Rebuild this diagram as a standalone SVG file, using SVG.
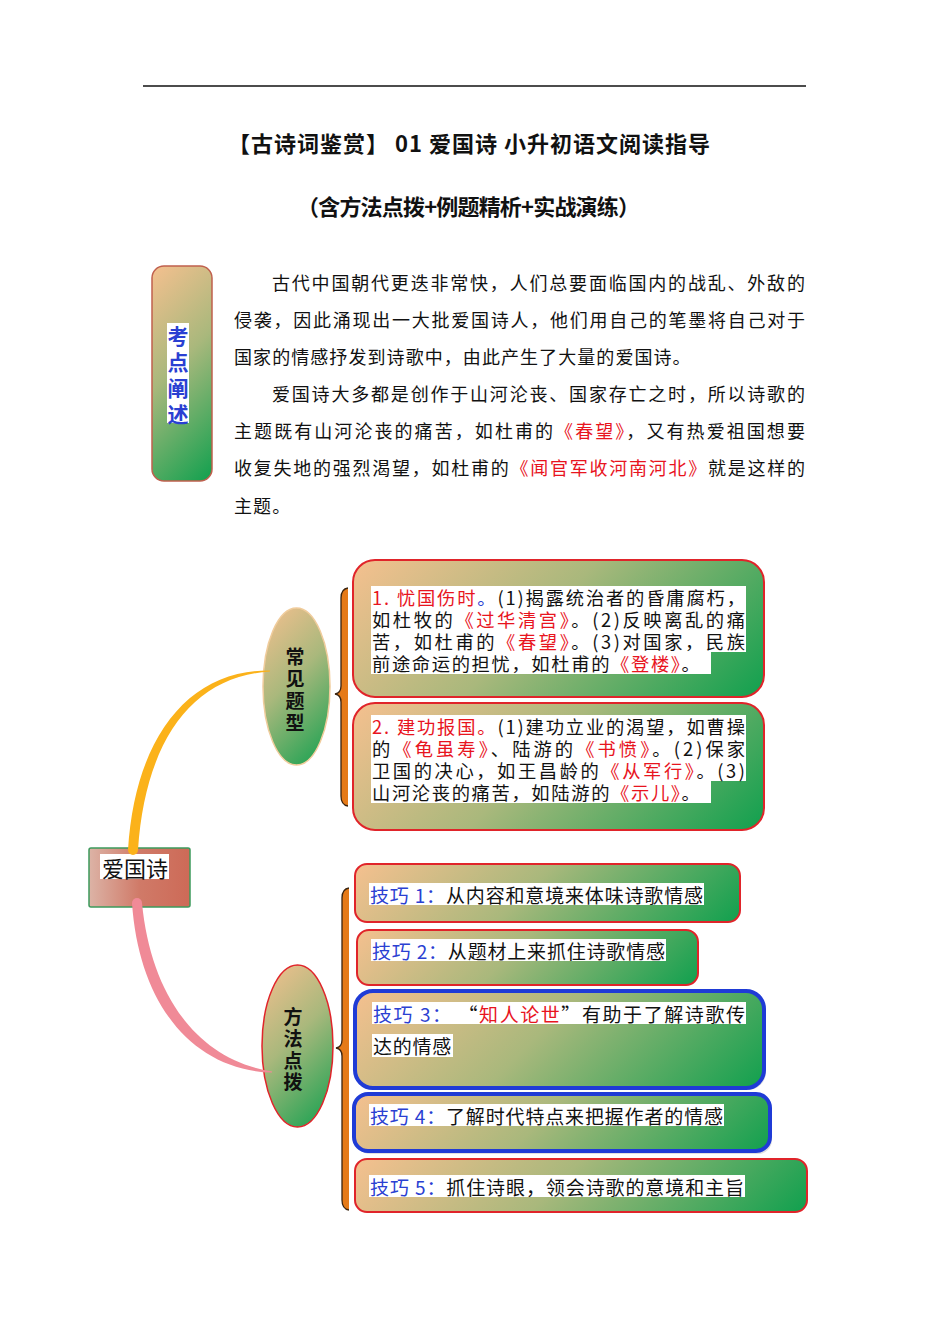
<svg xmlns="http://www.w3.org/2000/svg" width="950" height="1344" viewBox="0 0 950 1344">
<style>
text{font-family:"Noto Sans CJK SC","Liberation Sans",sans-serif;fill:#111;}
.t{font-size:22px;font-weight:700;dominant-baseline:central;}
.p{font-size:18px;dominant-baseline:central;letter-spacing:1.07px;}
.b{font-size:19px;dominant-baseline:central;}
.bs{font-size:18.3px;dominant-baseline:central;}
.v{font-size:19px;font-weight:700;writing-mode:vertical-rl;}
.r{fill:#e8141e;}
.bl{fill:#2a40d2;}
.hl{fill:#ffffff;}
.rb{stroke:#e0242a;stroke-width:2;}
.ub{stroke:#1f3bd6;stroke-width:4;}
.brace{fill:#e57a18;stroke:none;}
.braceedge{fill:none;stroke:#3a2410;stroke-width:1.3;}
</style>
<defs>
<linearGradient id="g" gradientUnits="userSpaceOnUse" x1="0" y1="0" x2="1" y2="1">
<stop offset="0" stop-color="#f5c08f"/>
<stop offset="0.45" stop-color="#a9b87c"/>
<stop offset="1" stop-color="#10a04e"/>
</linearGradient>
<linearGradient id="gK" href="#g" gradientUnits="userSpaceOnUse" x1="152" y1="266" x2="289.5" y2="403.5"/>
<linearGradient id="gB1" href="#g" gradientUnits="userSpaceOnUse" x1="353" y1="560" x2="627" y2="834"/>
<linearGradient id="gB2" href="#g" gradientUnits="userSpaceOnUse" x1="353" y1="703" x2="622" y2="972"/>
<linearGradient id="gE1" href="#g" gradientUnits="userSpaceOnUse" x1="263" y1="608" x2="375" y2="720"/>
<linearGradient id="gE2" href="#g" gradientUnits="userSpaceOnUse" x1="262" y1="965" x2="378.5" y2="1081.5"/>
<linearGradient id="gT1" href="#g" gradientUnits="userSpaceOnUse" x1="355" y1="864" x2="576.5" y2="1085.5"/>
<linearGradient id="gT2" href="#g" gradientUnits="userSpaceOnUse" x1="357" y1="930" x2="555" y2="1128"/>
<linearGradient id="gT3" href="#g" gradientUnits="userSpaceOnUse" x1="355" y1="991" x2="608" y2="1244"/>
<linearGradient id="gT4" href="#g" gradientUnits="userSpaceOnUse" x1="354" y1="1094" x2="591" y2="1331"/>
<linearGradient id="gT5" href="#g" gradientUnits="userSpaceOnUse" x1="355" y1="1159" x2="607.5" y2="1411.5"/>
<linearGradient id="gC" x1="0" y1="0" x2="1" y2="0">
<stop offset="0" stop-color="#dcb3a6"/>
<stop offset="0.5" stop-color="#d07a68"/>
<stop offset="1" stop-color="#cd6a57"/>
</linearGradient>
</defs>
<rect width="950" height="1344" fill="#ffffff"/>

<g id="header">
<line x1="143" y1="86" x2="806" y2="86" stroke="#111" stroke-width="1.3"/>
<text class="t" x="228" y="142" textLength="482" lengthAdjust="spacing">【古诗词鉴赏】 01 爱国诗 小升初语文阅读指导</text>
<text class="t" x="297" y="205" textLength="343" lengthAdjust="spacing">（含方法点拨+例题精析+实战演练）</text>
</g>

<g id="kaodian">
<rect x="152" y="266" width="60" height="215" rx="12" fill="url(#gK)" stroke="#c0604e" stroke-width="1.5"/>
<rect class="hl" x="167" y="323" width="22" height="100"/>
<text class="v bl" style="font-size:21px;letter-spacing:5px" x="178" y="325.5">考点阐述</text>
</g>

<g id="intro">
<text class="p" x="272" y="282" textLength="534" lengthAdjust="spacing">古代中国朝代更迭非常快，人们总要面临国内的战乱、外敌的</text>
<text class="p" x="234" y="319" textLength="572" lengthAdjust="spacing">侵袭，因此涌现出一大批爱国诗人，他们用自己的笔墨将自己对于</text>
<text class="p" x="234" y="356">国家的情感抒发到诗歌中，由此产生了大量的爱国诗。</text>
<text class="p" x="272" y="393" textLength="534" lengthAdjust="spacing">爱国诗大多都是创作于山河沦丧、国家存亡之时，所以诗歌的</text>
<text class="p" x="234" y="430" textLength="572" lengthAdjust="spacing">主题既有山河沦丧的痛苦，如杜甫的<tspan class="r">《春望》</tspan>，又有热爱祖国想要</text>
<text class="p" x="234" y="467" textLength="572" lengthAdjust="spacing">收复失地的强烈渴望，如杜甫的<tspan class="r">《闻官军收河南河北》</tspan>就是这样的</text>
<text class="p" x="234" y="505">主题。</text>
</g>

<g id="node-aiguoshi">
<rect x="89" y="848" width="101" height="59" rx="2" fill="url(#gC)" stroke="#3c9a5c" stroke-width="1.5"/>
<rect class="hl" x="100" y="854" width="69" height="25"/>
<text style="font-size:22px;dominant-baseline:central;text-anchor:middle" x="135" y="867">爱国诗</text>
</g>

<g id="node-changjian">
<ellipse cx="296.5" cy="686.5" rx="33.5" ry="78.5" fill="url(#gE1)" stroke="#f0cc9c" stroke-width="1.5"/>
<text class="v" style="letter-spacing:3px" x="295" y="647.5">常见题型</text>
</g>

<g id="node-fangfa">
<ellipse cx="297.5" cy="1046" rx="35.5" ry="81" fill="url(#gE2)" stroke="#e0242a" stroke-width="1.5"/>
<text class="v" style="letter-spacing:2.7px" x="293" y="1007.5">方法点拨</text>
</g>

<g id="braces">
<path class="brace" d="M348,588 Q341,589 341,598 L341,686 Q341,693 335,694 Q341,695 341,702 L341,796 Q341,805 348,806 Z"/>
<path class="braceedge" d="M348,588 Q341,589 341,598 L341,686 Q341,693 335,694 Q341,695 341,702 L341,796 Q341,805 348,806"/>
<path class="brace" d="M349,888 Q342,889 342,898 L342,1040 Q342,1047 336,1048 Q342,1049 342,1056 L342,1200 Q342,1209 349,1210 Z"/>
<path class="braceedge" d="M349,888 Q342,889 342,898 L342,1040 Q342,1047 336,1048 Q342,1049 342,1056 L342,1200 Q342,1209 349,1210"/>
</g>

<g id="node-type1">
<rect class="rb" x="353" y="560" width="411" height="137" rx="22" fill="url(#gB1)"/>
<rect class="hl" x="371" y="586" width="375" height="66"/>
<rect class="hl" x="371" y="652" width="340" height="22"/>
<text class="bs"><tspan x="372" y="597" textLength="373" lengthAdjust="spacing"><tspan class="r">1. 忧国伤时</tspan><tspan class="bl">。</tspan>(1)揭露统治者的昏庸腐朽，</tspan><tspan x="372" y="619" textLength="373" lengthAdjust="spacing">如杜牧的<tspan class="r">《过华清宫》</tspan>。(2)反映离乱的痛</tspan><tspan x="372" y="641" textLength="373" lengthAdjust="spacing">苦，如杜甫的<tspan class="r">《春望》</tspan>。(3)对国家，民族</tspan><tspan x="372" y="663" style="letter-spacing:1.64px">前途命运的担忧，如杜甫的<tspan class="r">《登楼》</tspan>。</tspan></text>
</g>

<g id="node-type2">
<rect class="rb" x="353" y="703" width="411" height="127" rx="22" fill="url(#gB2)"/>
<rect class="hl" x="371" y="715" width="375" height="66"/>
<rect class="hl" x="371" y="781" width="340" height="22"/>
<text class="bs"><tspan x="372" y="726" textLength="373" lengthAdjust="spacing"><tspan class="r">2. 建功报国。</tspan>(1)建功立业的渴望，如曹操</tspan><tspan x="372" y="748" textLength="373" lengthAdjust="spacing">的<tspan class="r">《龟虽寿》</tspan>、陆游的<tspan class="r">《书愤》</tspan>。(2)保家</tspan><tspan x="372" y="770" textLength="373" lengthAdjust="spacing">卫国的决心，如王昌龄的<tspan class="r">《从军行》</tspan>。(3)</tspan><tspan x="372" y="792" style="letter-spacing:1.64px">山河沦丧的痛苦，如陆游的<tspan class="r">《示儿》</tspan>。</tspan></text>
</g>

<g id="node-tip1">
<rect class="rb" x="355" y="864" width="385" height="58" rx="12" fill="url(#gT1)"/>
<rect class="hl" x="369" y="883" width="335" height="22"/>
<text class="b" x="370" y="894" textLength="333" lengthAdjust="spacing"><tspan class="bl">技巧 1：</tspan>从内容和意境来体味诗歌情感</text>
</g>

<g id="node-tip2">
<rect class="rb" x="357" y="930" width="341" height="55" rx="12" fill="url(#gT2)"/>
<rect class="hl" x="371" y="939" width="295" height="22"/>
<text class="b" x="372" y="950" textLength="293" lengthAdjust="spacing"><tspan class="bl">技巧 2：</tspan>从题材上来抓住诗歌情感</text>
</g>

<g id="node-tip3">
<rect x="357" y="995" width="409" height="95" rx="18" fill="#000" opacity="0.12"/>
<rect class="ub" x="355" y="991" width="409" height="97" rx="18" fill="url(#gT3)"/>
<rect class="hl" x="372" y="1002" width="374" height="22"/>
<rect class="hl" x="372" y="1034" width="81" height="23"/>
<text class="b"><tspan x="373" y="1013" textLength="372" lengthAdjust="spacing"><tspan class="bl">技巧 3：</tspan> “<tspan class="r">知人论世</tspan>”有助于了解诗歌传</tspan><tspan x="373" y="1045" style="letter-spacing:0.75px">达的情感</tspan></text>
</g>

<g id="node-tip4">
<rect x="356" y="1098" width="416" height="56" rx="14" fill="#000" opacity="0.12"/>
<rect class="ub" x="354" y="1094" width="416" height="57" rx="14" fill="url(#gT4)"/>
<rect class="hl" x="369" y="1104" width="355" height="22"/>
<text class="b" x="370" y="1115" textLength="353" lengthAdjust="spacing"><tspan class="bl">技巧 4：</tspan>了解时代特点来把握作者的情感</text>
</g>

<g id="node-tip5">
<rect class="rb" x="355" y="1159" width="452" height="53" rx="12" fill="url(#gT5)"/>
<rect class="hl" x="369" y="1175" width="376" height="22"/>
<text class="b" x="370" y="1186" textLength="374" lengthAdjust="spacing"><tspan class="bl">技巧 5：</tspan>抓住诗眼，领会诗歌的意境和主旨</text>
</g>

<g id="connectors">
<path fill="#fbb21a" d="M128,850 C135,738 188,669.5 270,670.4 L270,671.6 C192,676 145,742 138,850 Z"/>
<circle cx="133" cy="850" r="5" fill="#fbb21a"/>
<path fill="#f08a97" d="M132,903 C139,1004 192,1070 272,1072.6 L272,1071.4 C198,1060 151,996 142,903 Z"/>
<circle cx="137" cy="903" r="5" fill="#f08a97"/>
</g>
</svg>
